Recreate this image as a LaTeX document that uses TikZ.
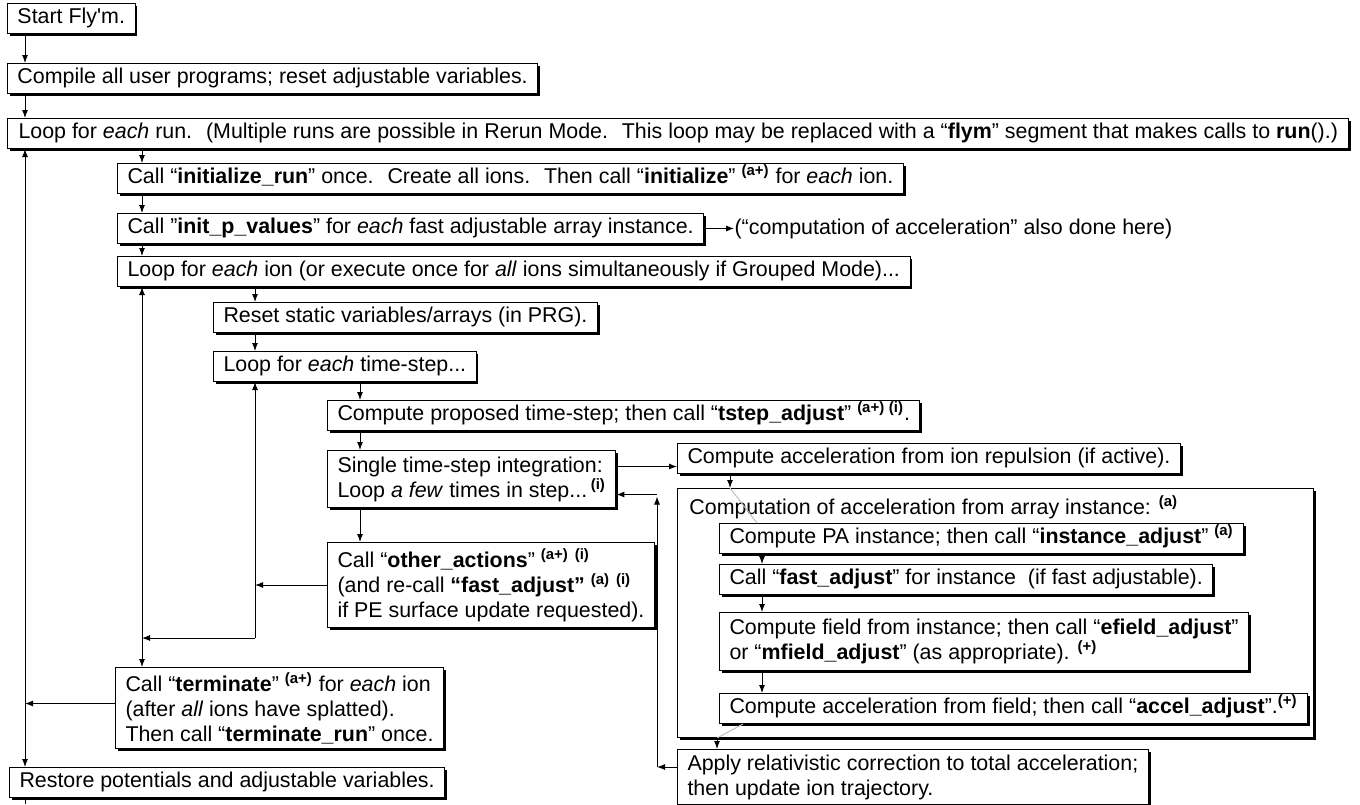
\documentclass[tikz,border=0pt]{standalone}
\usepackage{fontspec}
\setmainfont{Liberation Sans}
\usetikzlibrary{positioning,arrows.meta,shadows}
\newcommand{\supnote}[1]{\textsuperscript{\bfseries(#1)}}

\begin{document}
\begin{tikzpicture}
                [x=0.5pt,y=-0.5pt,font=\fontsize{10.7}{12.5}\selectfont,
                box/.style={draw,fill=white,line width=0.5pt,anchor=north west,align=left,
                  inner xsep=5pt,inner ysep=2pt,minimum height=15pt,
                  drop shadow={shadow xshift=1.1pt,shadow yshift=-1.1pt,fill=black,opacity=1}},
                row/.style={box,text height=7.8pt,text depth=2.4pt},
                arr/.style={line width=0.5pt,-{Latex[length=4pt,width=3pt]}},
                faint/.style={line width=0.5pt,draw=black!25}]
                \useasboundingbox (0,0) rectangle (1360,804);
                % x positions of the vertical connectors
                \coordinate (runx) at (25,0);
                \coordinate (ionx) at (142,0);
                \coordinate (tsx) at (255,0);
                \coordinate (stepx) at (360,0);
                \coordinate (repx) at (730,0);
                \coordinate (pax) at (762,0);
                \coordinate (outx) at (717,0);
                \coordinate (backx) at (657,0);
                \node[row] (start) at (7,3) {Start Fly\textquotesingle m.};
                \node[row] (compile) at (7,63) {Compile all user programs; reset adjustable variables.};
                \node[row,inner xsep=5.5pt] (looprun) at (7,118) {Loop for \textit{each} run.~ (Multiple runs are possible in Rerun Mode.~ This loop may be replaced with a “\textbf{flym}” segment that makes calls to \textbf{run}().)};
                \node[row] (init) at (117,163) {Call “\textbf{initialize\_run}” once.~ Create all ions.~ Then call “\textbf{initialize}” \supnote{a+} for \textit{each} ion.};
                \node[row] (initp) at (117,213) {Call ”\textbf{init\_p\_values}” for \textit{each} fast adjustable array instance.};
                \node[inner sep=0pt,right=15pt of initp] (note) {(“computation of acceleration” also done here)};
                \node[row] (loopion) at (117,256) {Loop for \textit{each} ion (or execute once for \textit{all} ions simultaneously if Grouped Mode)...};
                \node[row] (reset) at (213,302) {Reset static variables/arrays (in PRG).};
                \node[row] (loopts) at (213,351) {Loop for \textit{each} time-step...};
                \node[row] (compprop) at (327,400) {Compute proposed time-step; then call “\textbf{tstep\_adjust}” \supnote{a+}\,\supnote{i}.};
                \node[box,minimum height=28.5pt] (single) at (327,450) {Single time-step integration:\\Loop \textit{a few} times in step...\,\supnote{i}};
                \node[box,minimum height=42.5pt] (other) at (327,542) {Call “\textbf{other\_actions}” \supnote{a+} \supnote{i}\\(and re-call \textbf{“fast\_adjust”} \supnote{a} \supnote{i}\\if PE surface update requested).};
                \node[box,minimum height=40.5pt] (term) at (115,667) {Call “\textbf{terminate}” \supnote{a+} for \textit{each} ion\\(after \textit{all} ions have splatted).\\Then call “\textbf{terminate\_run}” once.};
                \node[row] (restore) at (9,767) {Restore potentials and adjustable variables.};
                \node[row] (ionrep) at (677,443) {Compute acceleration from ion repulsion (if active).};
                \node[box,minimum width=318pt,minimum height=124.5pt] (outer) at (677,488) {};
                \node[anchor=north west,inner xsep=5pt,inner ysep=2pt,text height=7.8pt,text depth=2.4pt] (title) at (679,494) {Computation of acceleration from array instance: \supnote{a}};
                \node[row] (pa) at (719,523) {Compute PA instance; then call “\textbf{instance\_adjust}” \supnote{a}};
                \node[row] (fast) at (719,564) {Call “\textbf{fast\_adjust}” for instance~ (if fast adjustable).};
                \node[box,minimum height=29pt] (field) at (719,612) {Compute field from instance; then call “\textbf{efield\_adjust}”\\or “\textbf{mfield\_adjust}” (as appropriate). \supnote{+}};
                \node[row] (accel) at (719,693) {Compute acceleration from field; then call “\textbf{accel\_adjust}”.\supnote{+}};
                \node[box,minimum height=27.5pt] (apply) at (677,749) {Apply relativistic correction to total acceleration;\\then update ion trajectory.};
                \coordinate (tsbot) at (255,638);
                \coordinate (finish) at (25,804);
                % main flow
                \draw[arr] (start.south -| runx) -- (compile.north -| runx);
                \draw[arr] (compile.south -| runx) -- (looprun.north -| runx);
                \draw[arr] (looprun.south -| ionx) -- (init.north -| ionx);
                \draw[arr] (init.south -| ionx) -- (initp.north -| ionx);
                \draw[arr] (initp.east) -- (note.west);
                \draw[arr] (initp.south -| ionx) -- (loopion.north -| ionx);
                \draw[arr] (loopion.south -| tsx) -- (reset.north -| tsx);
                \draw[arr] (reset.south -| tsx) -- (loopts.north -| tsx);
                \draw[arr] (loopts.south -| stepx) -- (compprop.north -| stepx);
                \draw[arr] (compprop.south -| stepx) -- (single.north -| stepx);
                \draw[arr] (single.south -| stepx) -- (other.north -| stepx);
                \draw[arr] ([yshift=6.25pt]single.east) -- ([yshift=6.25pt]single.east -| ionrep.west);
                % loops back
                \draw[arr] (other.west) -- (other.west -| tsx);
                \draw[arr] (tsbot) -- (loopts.south -| tsx);
                \draw[arr] (tsbot) -- (tsbot -| ionx);
                \draw[arr] (tsbot -| ionx) -- (loopion.south -| ionx);
                \draw[arr] (tsbot -| ionx) -- (term.north -| ionx);
                \draw[arr] ([yshift=2.25pt]term.west) -- ([yshift=2.25pt]term.west -| runx);
                \draw[arr] ([yshift=2.25pt]term.west -| runx) -- (looprun.south -| runx);
                \draw[arr] ([yshift=2.25pt]term.west -| runx) -- (restore.north -| runx);
                \draw[line width=0.5pt] (restore.south -| runx) -- (finish);
                % acceleration column
                \draw[arr] (ionrep.south -| repx) -- (outer.north -| repx);
                \draw[faint] (outer.north -| repx) -- ([xshift=19pt]pa.north west);
                \draw[arr] (pa.south -| pax) -- (fast.north -| pax);
                \draw[arr] (fast.south -| pax) -- (field.north -| pax);
                \draw[arr] (field.south -| pax) -- (accel.north -| pax);
                \draw[faint] ([xshift=12pt]accel.south west) -- (outer.south -| outx);
                \draw[arr] (outer.south -| outx) -- (apply.north -| outx);
                \draw[arr] ([yshift=5pt]apply.west) -- ([yshift=5pt]apply.west -| backx);
                \draw[arr] ([yshift=5pt]apply.west -| backx) -- ([yshift=-8.75pt]single.east -| backx);
                \draw[arr] ([yshift=-7.75pt]single.east -| backx) -- ([yshift=-7.75pt]single.east);
            \end{tikzpicture}
\end{document}
